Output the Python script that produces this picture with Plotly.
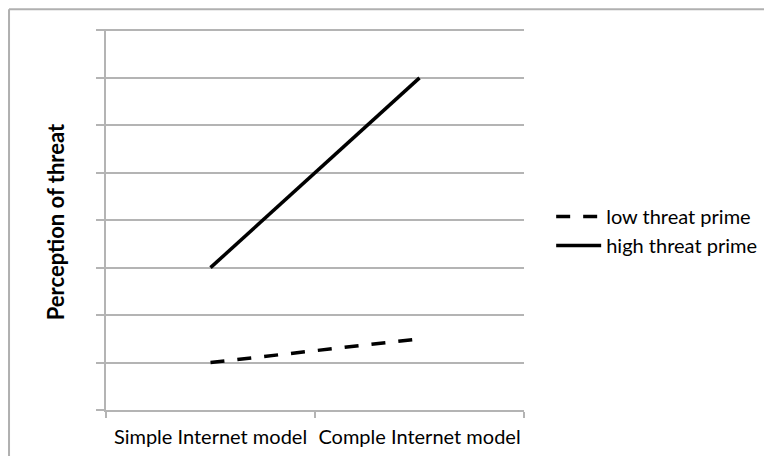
import plotly.graph_objects as go

categories = ["Simple Internet model", "Comple Internet model"]
low_threat = [1.0, 1.5]
high_threat = [3.0, 7.0]
series_names = ["low threat prime", "high threat prime"]
y_title = "Perception of threat"

FONT = "Lato"
GRID = "#b4b4b4"
BORDER = "#b0b0b0"

fig = go.Figure()
fig.add_trace(go.Scatter(
    x=categories, y=low_threat, name=series_names[0], mode="lines",
    line=dict(color="black", width=3.5, dash="14px,13px"),
))
fig.add_trace(go.Scatter(
    x=categories, y=high_threat, name=series_names[1], mode="lines",
    line=dict(color="black", width=3.5),
))

fig.update_layout(
    width=764, height=448,
    margin=dict(l=98, r=248, t=21, b=46, autoexpand=False),
    paper_bgcolor="white", plot_bgcolor="white",
    font=dict(family=FONT, color="black"),
    showlegend=True,
    legend=dict(x=1.065, y=0.47, xanchor="left", yanchor="middle",
                font=dict(size=20, family=FONT), itemwidth=45,
                bgcolor="rgba(0,0,0,0)"),
    xaxis=dict(type="category", range=[-0.5, 1.5], tickson="boundaries",
               ticks="outside", ticklen=6, tickcolor=GRID, tickwidth=1.5,
               showline=True, linecolor=GRID, linewidth=1.5,
               showgrid=False, tickfont=dict(size=20, family=FONT),
               tickangle=0, automargin=False, ticklabelstandoff=8),
    yaxis=dict(range=[0, 8.03], tickvals=[0, 1, 2, 3, 4, 5, 6, 7, 8],
               showticklabels=False, automargin=False,
               ticks="outside", ticklen=8, tickcolor=GRID, tickwidth=1.5,
               showline=True, linecolor=GRID, linewidth=1.5,
               showgrid=True, gridcolor=GRID, gridwidth=1.5, zeroline=False),
    annotations=[dict(text="<b>" + y_title + "</b>", textangle=-90,
                      xref="paper", yref="paper", x=-0.12, y=0.495,
                      xanchor="center", yanchor="middle", showarrow=False,
                      font=dict(size=22, family=FONT))],
    shapes=[
        dict(type="line", xref="paper", yref="paper", x0=-0.232, x1=1.6,
             y0=1.052, y1=1.052, line=dict(color=BORDER, width=2)),
        dict(type="line", xref="paper", yref="paper", x0=-0.232, x1=-0.232,
             y0=1.052, y1=-0.13, line=dict(color=BORDER, width=2)),
    ],
)

fig.write_html("out.html")
